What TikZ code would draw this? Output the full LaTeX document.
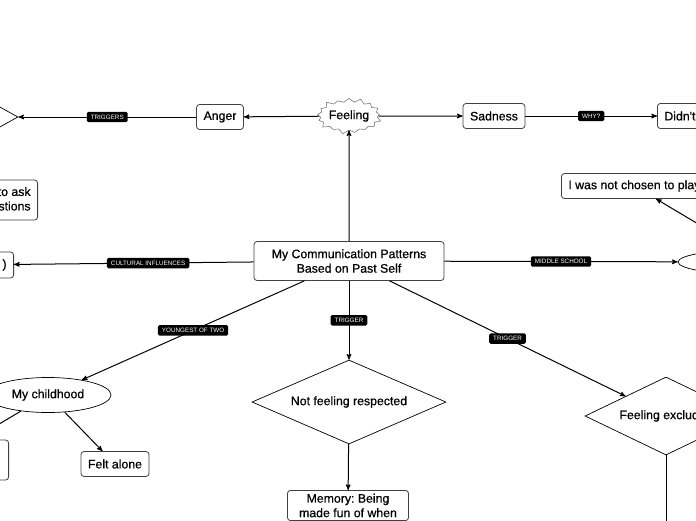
\documentclass[tikz,border=0pt]{standalone}
\usepackage{fontspec}
\setmainfont{Liberation Sans}
\newfontfamily\medfont{Liberation Sans}[FakeBold=0.6]
\usepackage{tikz}
\usetikzlibrary{arrows,shapes.geometric,shapes.symbols}
\definecolor{cframe}{rgb}{0.25,0.25,0.25}

\begin{document}
\begin{tikzpicture}[->,>=stealth',x=1pt,y=-1pt,line width=1pt,
  every node/.style={font=\medfont\fontsize{12.3}{14.5}\selectfont},
  box node/.style={rectangle,rounded corners=3pt,draw=cframe,line width=0.8pt,fill=white,minimum height=25pt,inner xsep=7pt},
  rhomb node/.style={diamond,draw,line width=0.7pt,fill=white,inner sep=2pt,aspect=2.3},
  oval node/.style={ellipse,draw,line width=0.7pt,fill=white},
  burst node/.style={starburst,draw=black!60,line width=0.5pt,fill=white,starburst points=17,starburst point height=5pt,inner sep=0pt},
  tag/.style={fill=black,text=white,rounded corners=1.5pt,inner xsep=4pt,inner ysep=3pt,font=\fontsize{6.3}{7}\selectfont}]
  \useasboundingbox (0,0) rectangle (696,520);
  \clip (0,0) rectangle (696,520);

  \node[box node,minimum width=190pt,minimum height=39pt,align=center] (1) at (349,261) {My Communication Patterns\\Based on Past Self};
  \node[burst node,minimum width=66pt,minimum height=38pt] (2) at (349,116) {Feeling};
  \node[box node] (3) at (220,117) {Anger};
  \node[rhomb node,aspect=1.8,minimum width=180pt,minimum height=100pt] (4) at (-72,117) {};
  \node[box node] (5) at (494,116) {Sadness};
  \node[box node,anchor=west,text width=120pt,align=left] (6) at (657,116) {Didn't};
  \node[box node,anchor=west] (7) at (561,186) {I was not chosen to play};
  \node[oval node,minimum width=168pt,minimum height=26pt] (8) at (762,262) {};
  \node[box node,anchor=east,minimum height=40pt,align=right] (9) at (38,200) {to ask\\questions};
  \node[box node,anchor=east,minimum height=26pt,text width=100pt,align=right] (10) at (14,265) {)};
  \node[rhomb node,minimum width=194pt,minimum height=84pt] (11) at (349,402) {Not feeling respected};
  \node[box node,anchor=north,minimum width=121pt,align=center] (12) at (348,490) {Memory:\ Being\\made fun of when};
  \node[rhomb node,aspect=2.1,minimum width=162pt,minimum height=78pt] (13) at (666,416) {Feeling excluded};
  \coordinate (14) at (666,560);
  \node[oval node,minimum width=126pt,minimum height=35pt] (15) at (48,395) {My childhood};
  \node[box node] (16) at (115,464) {Felt alone};
  \node[box node,anchor=east,minimum width=140pt,minimum height=40pt] (17) at (9,460) {};

  \path
    (1) edge (2)
    (2) edge (3)
    (2) edge (5)
    (3) edge node[tag] {TRIGGERS} (4)
    (5) edge node[tag] {WHY?} (6)
    (1) edge node[tag,pos=0.44] {CULTURAL INFLUENCES} (10)
    (1) edge node[tag] {MIDDLE SCHOOL} (8)
    (8) edge (7)
    (1) edge node[tag] {TRIGGER} (11)
    (11) edge (12)
    (1) edge node[tag] {TRIGGER} (13)
    (13) edge (14)
    (1) edge node[tag] {YOUNGEST OF TWO} (15)
    (15) edge (16)
    (15) edge (17);
\end{tikzpicture}
\end{document}
